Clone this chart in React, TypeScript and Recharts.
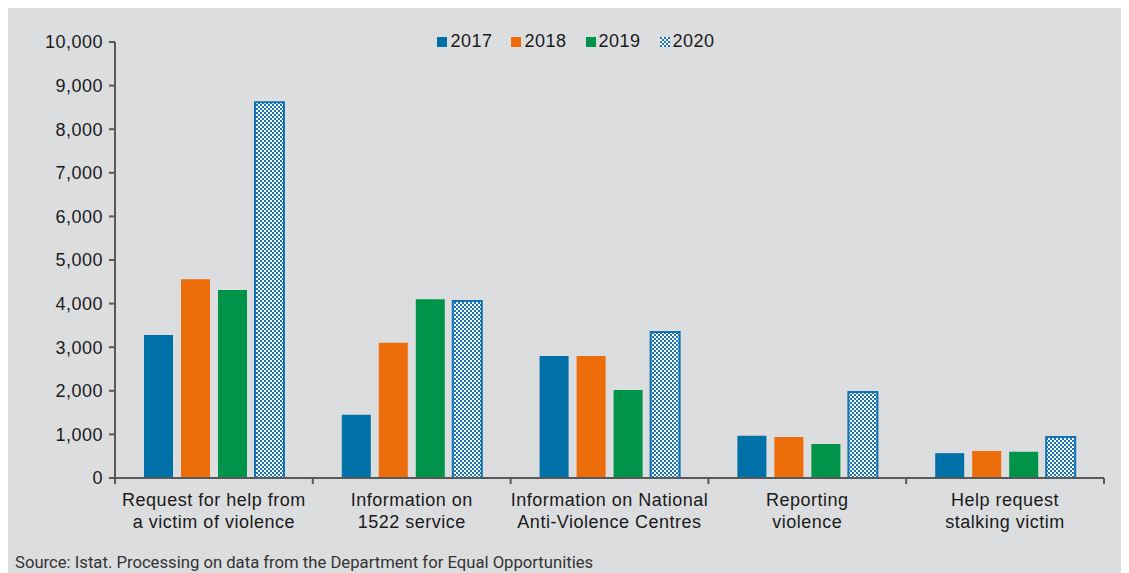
import { BarChart, Bar, XAxis, YAxis, Legend } from 'recharts'

const categories = [
  ['Request for help from', 'a victim of violence'],
  ['Information on', '1522 service'],
  ['Information on National', 'Anti-Violence Centres'],
  ['Reporting', 'violence'],
  ['Help request', 'stalking victim'],
]
const years = ['2017', '2018', '2019', '2020']
const v2017 = [3280, 1450, 2800, 970, 570]
const v2018 = [4560, 3100, 2800, 940, 620]
const v2019 = [4310, 4100, 2020, 780, 600]
const v2020 = [8620, 4060, 3350, 1970, 940]
const yTicks = [0, 1000, 2000, 3000, 4000, 5000, 6000, 7000, 8000, 9000, 10000]
const source = 'Source: Istat. Processing on data from the Department for Equal Opportunities'

const colors = ['#0070a9', '#ec6d0a', '#00934a', 'url(#check2020)']

const W = 1121
const H = 565
const MARGIN = { top: 34, right: 25, left: 0, bottom: 35 }
const YAXIS_W = 107
const FONT = 'Arial, "Liberation Sans", sans-serif'
const FS = 18
const LS = 0.5
const AXIS = '#585858'

const data = categories.map((c, i) => ({
  key: String(i),
  lines: c,
  y2017: v2017[i],
  y2018: v2018[i],
  y2019: v2019[i],
  y2020: v2020[i],
}))

const band = (W - MARGIN.left - MARGIN.right - YAXIS_W) / categories.length

const CategoryTick = ({ x, y, payload, index }: any) => {
  const lines = categories[Number(payload.value)] || []
  const last = index === categories.length - 1
  return (
    <g>
      <line x1={x - band / 2} x2={x - band / 2} y1={y} y2={y + 6} stroke={AXIS} strokeWidth={2} />
      {last && <line x1={x + band / 2} x2={x + band / 2} y1={y} y2={y + 6} stroke={AXIS} strokeWidth={2} />}
      <text x={x} y={y + 28} textAnchor="middle" fontFamily={FONT} fontSize={FS} letterSpacing={LS} fill="#1a1a1a">
        {lines.map((l: string, i: number) => (
          <tspan key={i} x={x} dy={i === 0 ? 0 : 22}>{l}</tspan>
        ))}
      </text>
    </g>
  )
}

const YearLegend = () => (
  <div style={{ display: 'flex', justifyContent: 'center', gap: 19, paddingLeft: 15, fontFamily: FONT, fontSize: FS, letterSpacing: LS, color: '#1a1a1a' }}>
    {years.map((y, i) => (
      <div key={y} style={{ display: 'flex', alignItems: 'center', gap: 3 }}>
        <svg width={10} height={10}>
          <rect width={10} height={10} fill={colors[i]} />
        </svg>
        <span>{y}</span>
      </div>
    ))}
  </div>
)

export default function App() {
  return (
    <div style={{ position: 'relative', width: W, height: H, background: '#dcdddf', overflow: 'hidden' }}>
      <BarChart width={W} height={H} data={data} margin={MARGIN} barSize={29} barGap={8}>
        <defs>
          <pattern id="check2020" width={4} height={4} patternUnits="userSpaceOnUse">
            <rect width={4} height={4} fill="#ffffff" />
            <rect x={0} y={0} width={2} height={2} fill="#1676b6" />
            <rect x={2} y={2} width={2} height={2} fill="#1676b6" />
          </pattern>
        </defs>
        <XAxis
          dataKey="key"
          tickSize={0}
          tickMargin={0}
          tickLine={false}
          interval={0}
          height={60}
          axisLine={{ stroke: AXIS, strokeWidth: 2 }}
          tick={<CategoryTick />}
        />
        <YAxis
          width={YAXIS_W}
          domain={[0, 10000]}
          ticks={yTicks}
          interval={0}
          tickSize={6}
          tickMargin={6}
          axisLine={{ stroke: AXIS, strokeWidth: 2 }}
          tickLine={{ stroke: AXIS, strokeWidth: 2 }}
          tickFormatter={(v: number) => v.toLocaleString('en-US')}
          tick={{ fontFamily: FONT, fontSize: FS, letterSpacing: LS, fill: '#1a1a1a' }}
        />
        <Legend
          layout="horizontal"
          verticalAlign="middle"
          align="center"
          content={<YearLegend />}
          wrapperStyle={{ top: 23, left: 0, width: W }}
        />
        <Bar dataKey="y2017" name="2017" fill={colors[0]} isAnimationActive={false} />
        <Bar dataKey="y2018" name="2018" fill={colors[1]} isAnimationActive={false} />
        <Bar dataKey="y2019" name="2019" fill={colors[2]} isAnimationActive={false} />
        <Bar dataKey="y2020" name="2020" fill={colors[3]} stroke="#1172b4" strokeWidth={2} isAnimationActive={false} />
      </BarChart>
      <div
        style={{
          position: 'absolute',
          left: 7,
          top: 544,
          fontFamily: 'Roboto, sans-serif',
          fontSize: 17,
          color: '#333333',
          whiteSpace: 'nowrap',
          transform: 'scaleX(0.98)',
          transformOrigin: 'left',
        }}
      >
        {source}
      </div>
    </div>
  )
}
